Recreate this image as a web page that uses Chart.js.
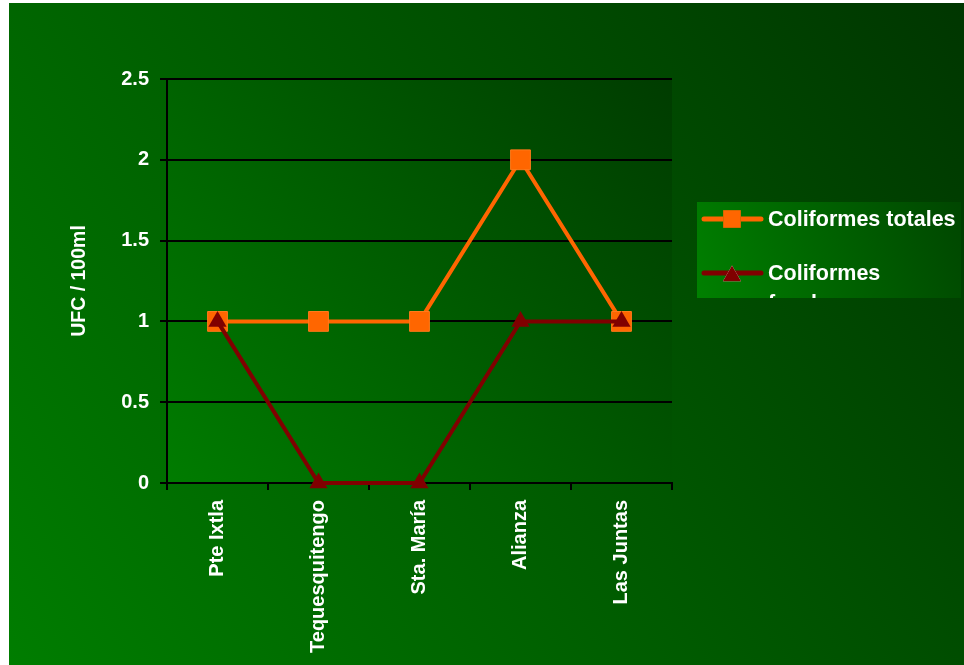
<!DOCTYPE html>
<html>
<head>
<meta charset="utf-8">
<script src="https://cdn.jsdelivr.net/npm/chart.js@4"></script>
<style>
  html, body { margin: 0; padding: 0; background: #fff; }
  canvas { display: block; }
</style>
</head>
<body>
<canvas id="chart" width="964" height="665"></canvas>
<script>
const sites = ['Pte Ixtla', 'Tequesquitengo', 'Sta. María', 'Alianza', 'Las Juntas'];
const totales = [1, 1, 1, 2, 1];
const fecales = [1, 0, 0, 1, 1];
const yTicks = [0, 0.5, 1, 1.5, 2, 2.5];

const FONT = '"Liberation Sans", Arial, sans-serif';
const tickFont = { family: FONT, size: 20, weight: 'bold' };

// slide background, plot background, and the boxed legend on the right
const backdrop = {
  id: 'backdrop',
  beforeDraw(chart) {
    const { ctx, chartArea: a } = chart;
    ctx.save();
    ctx.fillStyle = '#fff';
    ctx.fillRect(0, 0, chart.width, chart.height);
    let g = ctx.createLinearGradient(9, chart.height, chart.width, 3);
    g.addColorStop(0, '#007d00');
    g.addColorStop(1, '#003600');
    ctx.fillStyle = g;
    ctx.fillRect(9, 3, chart.width - 9, chart.height - 3);
    g = ctx.createLinearGradient(a.left, a.bottom, a.right, a.top);
    g.addColorStop(0, '#007c00');
    g.addColorStop(1, '#003c00');
    ctx.fillStyle = g;
    ctx.fillRect(a.left, a.top, a.width, a.height);
    ctx.restore();
  },
  afterDraw(chart) {
    const { ctx } = chart;
    const box = { x: 697, y: 202, w: 264, h: 96 };
    ctx.save();
    const g = ctx.createLinearGradient(box.x, box.y + box.h, box.x + box.w, box.y);
    g.addColorStop(0, '#008000');
    g.addColorStop(1, '#004600');
    ctx.fillStyle = g;
    ctx.fillRect(box.x, box.y, box.w, box.h);
    ctx.beginPath();
    ctx.rect(box.x, box.y, box.w, box.h);
    ctx.clip();

    const rows = [219, 273];
    const textX = 768;
    const wrapWidth = 189;
    ctx.font = 'bold 21.5px ' + FONT;
    ctx.textBaseline = 'middle';
    chart.data.datasets.slice().sort((p, q) => q.order - p.order).forEach((ds, i) => {
      const y = rows[i];
      ctx.strokeStyle = ds.borderColor;
      ctx.lineWidth = 5;
      ctx.lineCap = 'round';
      ctx.beginPath();
      ctx.moveTo(704, y);
      ctx.lineTo(761, y);
      ctx.stroke();
      Chart.helpers.drawPoint(ctx, {
        pointStyle: ds.pointStyle, radius: ds.pointStyle === 'rect' ? 12.5 : 10.5,
        rotation: 0, borderWidth: 0
      }, 732, y + (ds.pointStyle === 'triangle' ? 3 : 0));
      ctx.fillStyle = ds.pointBackgroundColor;
      ctx.fill();

      // wrap the label; the box clips whatever spills below it
      const words = ds.label.split(' ');
      const lines = [];
      let cur = '';
      words.forEach(w => {
        const t = cur ? cur + ' ' + w : w;
        if (cur && ctx.measureText(t).width > wrapWidth) { lines.push(cur); cur = w; }
        else cur = t;
      });
      lines.push(cur);
      ctx.fillStyle = '#fff';
      lines.forEach((l, k) => ctx.fillText(l, textX, y + 1 + k * 30));
    });
    ctx.restore();
  }
};

new Chart(document.getElementById('chart'), {
  type: 'line',
  data: {
    labels: sites,
    datasets: [
      {
        label: 'Coliformes totales', data: totales, order: 1, clip: false,
        borderColor: '#ff6600', borderWidth: 4,
        pointStyle: 'rect', pointRadius: 14, pointBorderWidth: 1,
        pointBackgroundColor: '#ff6600', pointBorderColor: '#ff7a1a'
      },
      {
        label: 'Coliformes fecales', data: fecales, order: 0, clip: false,
        borderColor: '#800000', borderWidth: 4,
        pointStyle: 'triangle', pointRadius: 10.5, pointBorderWidth: 0,
        pointBackgroundColor: '#800000', pointBorderColor: '#800000'
      }
    ]
  },
  options: {
    responsive: false,
    animation: false,
    devicePixelRatio: 1,
    layout: { padding: { left: 64, top: 79, right: 292, bottom: 0 } },
    plugins: { legend: { display: false }, tooltip: { enabled: false } },
    elements: { line: { tension: 0 } },
    scales: {
      x: {
        offset: true,
        grid: { offset: true, drawOnChartArea: false, tickLength: 7, color: '#000', lineWidth: 2 },
        border: { color: '#000', width: 2 },
        ticks: { color: '#fff', font: tickFont, minRotation: 90, maxRotation: 90, padding: 10, autoSkip: false },
        afterFit(s) { s.height = 182; }
      },
      y: {
        min: yTicks[0], max: yTicks[yTicks.length - 1],
        afterBuildTicks(s) { s.ticks = yTicks.map(v => ({ value: v })); },
        grid: { tickLength: 7, color: '#000', lineWidth: 2 },
        border: { color: '#000', width: 2 },
        ticks: { color: '#fff', font: tickFont, padding: 11, callback: v => String(v) },
        title: { display: true, text: 'UFC / 100ml', color: '#fff', font: { family: FONT, size: 19.5, weight: 'bold' }, padding: 4 },
        afterFit(s) { s.width = 103; }
      }
    }
  },
  plugins: [backdrop]
});
</script>
</body>
</html>
